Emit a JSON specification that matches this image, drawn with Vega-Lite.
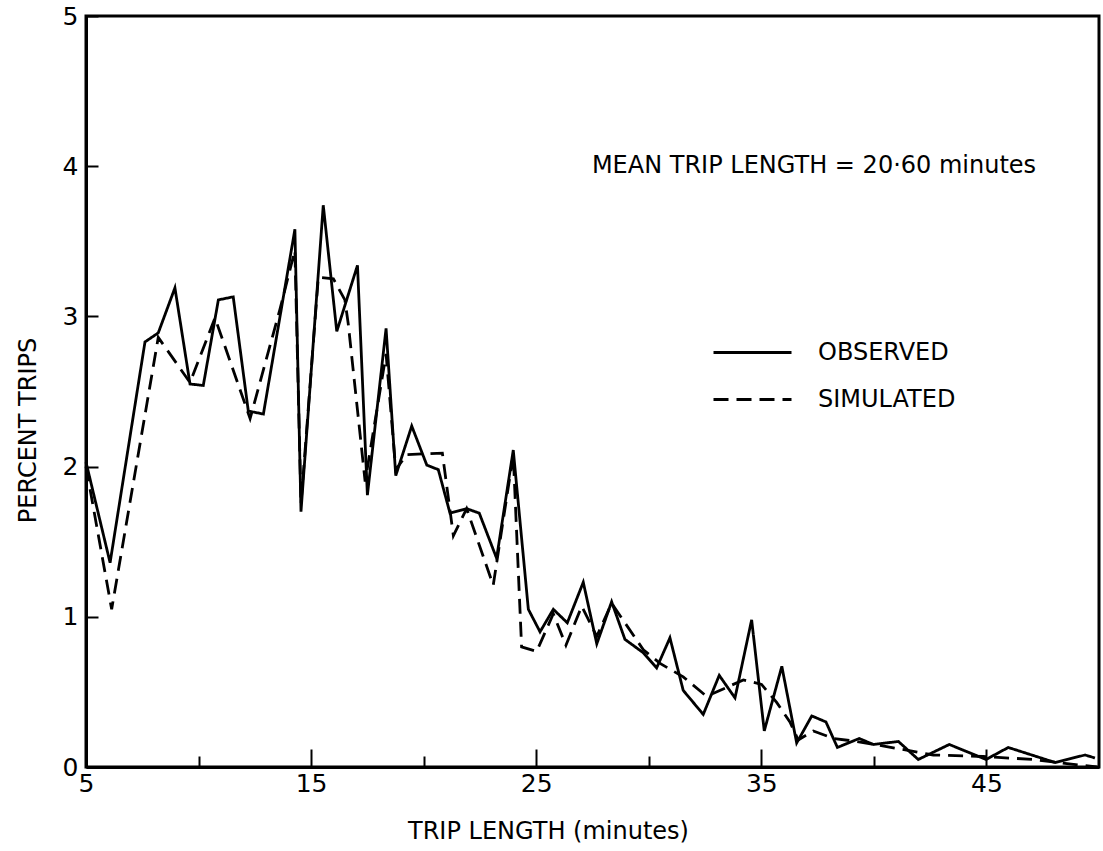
{
  "$schema": "https://vega.github.io/schema/vega-lite/v6.json",
  "width": 1013,
  "height": 751,
  "autosize": {"type": "none"},
  "padding": {"left": 86, "top": 16, "right": 4, "bottom": 84},
  "background": "white",
  "config": {
    "font": "DejaVu Sans",
    "view": {"stroke": "black", "strokeWidth": 3},
    "axis": {
      "domainColor": "black", "domainWidth": 3,
      "tickColor": "black", "tickWidth": 2,
      "labelColor": "black", "titleColor": "black",
      "labelFont": "DejaVu Sans", "titleFont": "DejaVu Sans",
      "labelFontSize": 25, "titleFontSize": 24, "titleFontWeight": "normal",
      "grid": false, "labelFlush": false, "labelOverlap": false, "format": "d"
    }
  },
  "datasets": {
    "trips": [
      {"minutes": 5.0, "percent": 2.03, "series": "OBSERVED"},
      {"minutes": 6.07, "percent": 1.36, "series": "OBSERVED"},
      {"minutes": 7.62, "percent": 2.83, "series": "OBSERVED"},
      {"minutes": 8.21, "percent": 2.89, "series": "OBSERVED"},
      {"minutes": 8.95, "percent": 3.19, "series": "OBSERVED"},
      {"minutes": 9.62, "percent": 2.55, "series": "OBSERVED"},
      {"minutes": 10.21, "percent": 2.54, "series": "OBSERVED"},
      {"minutes": 10.88, "percent": 3.11, "series": "OBSERVED"},
      {"minutes": 11.54, "percent": 3.13, "series": "OBSERVED"},
      {"minutes": 12.21, "percent": 2.37, "series": "OBSERVED"},
      {"minutes": 12.88, "percent": 2.35, "series": "OBSERVED"},
      {"minutes": 14.28, "percent": 3.58, "series": "OBSERVED"},
      {"minutes": 14.55, "percent": 1.70, "series": "OBSERVED"},
      {"minutes": 15.54, "percent": 3.74, "series": "OBSERVED"},
      {"minutes": 16.14, "percent": 2.90, "series": "OBSERVED"},
      {"minutes": 17.06, "percent": 3.34, "series": "OBSERVED"},
      {"minutes": 17.50, "percent": 1.81, "series": "OBSERVED"},
      {"minutes": 18.33, "percent": 2.92, "series": "OBSERVED"},
      {"minutes": 18.76, "percent": 1.94, "series": "OBSERVED"},
      {"minutes": 19.47, "percent": 2.27, "series": "OBSERVED"},
      {"minutes": 20.14, "percent": 2.01, "series": "OBSERVED"},
      {"minutes": 20.65, "percent": 1.98, "series": "OBSERVED"},
      {"minutes": 21.17, "percent": 1.69, "series": "OBSERVED"},
      {"minutes": 21.91, "percent": 1.72, "series": "OBSERVED"},
      {"minutes": 22.47, "percent": 1.69, "series": "OBSERVED"},
      {"minutes": 23.24, "percent": 1.39, "series": "OBSERVED"},
      {"minutes": 23.98, "percent": 2.11, "series": "OBSERVED"},
      {"minutes": 24.65, "percent": 1.05, "series": "OBSERVED"},
      {"minutes": 25.17, "percent": 0.90, "series": "OBSERVED"},
      {"minutes": 25.76, "percent": 1.05, "series": "OBSERVED"},
      {"minutes": 26.38, "percent": 0.96, "series": "OBSERVED"},
      {"minutes": 27.09, "percent": 1.23, "series": "OBSERVED"},
      {"minutes": 27.69, "percent": 0.82, "series": "OBSERVED"},
      {"minutes": 28.35, "percent": 1.10, "series": "OBSERVED"},
      {"minutes": 28.94, "percent": 0.85, "series": "OBSERVED"},
      {"minutes": 29.76, "percent": 0.76, "series": "OBSERVED"},
      {"minutes": 30.35, "percent": 0.66, "series": "OBSERVED"},
      {"minutes": 30.94, "percent": 0.86, "series": "OBSERVED"},
      {"minutes": 31.53, "percent": 0.51, "series": "OBSERVED"},
      {"minutes": 32.42, "percent": 0.35, "series": "OBSERVED"},
      {"minutes": 33.13, "percent": 0.61, "series": "OBSERVED"},
      {"minutes": 33.83, "percent": 0.46, "series": "OBSERVED"},
      {"minutes": 34.57, "percent": 0.98, "series": "OBSERVED"},
      {"minutes": 35.13, "percent": 0.24, "series": "OBSERVED"},
      {"minutes": 35.91, "percent": 0.67, "series": "OBSERVED"},
      {"minutes": 36.57, "percent": 0.16, "series": "OBSERVED"},
      {"minutes": 37.24, "percent": 0.34, "series": "OBSERVED"},
      {"minutes": 37.87, "percent": 0.30, "series": "OBSERVED"},
      {"minutes": 38.38, "percent": 0.13, "series": "OBSERVED"},
      {"minutes": 39.35, "percent": 0.19, "series": "OBSERVED"},
      {"minutes": 39.97, "percent": 0.15, "series": "OBSERVED"},
      {"minutes": 41.09, "percent": 0.17, "series": "OBSERVED"},
      {"minutes": 41.97, "percent": 0.05, "series": "OBSERVED"},
      {"minutes": 43.35, "percent": 0.15, "series": "OBSERVED"},
      {"minutes": 44.98, "percent": 0.05, "series": "OBSERVED"},
      {"minutes": 45.97, "percent": 0.13, "series": "OBSERVED"},
      {"minutes": 48.05, "percent": 0.03, "series": "OBSERVED"},
      {"minutes": 49.38, "percent": 0.08, "series": "OBSERVED"},
      {"minutes": 49.82, "percent": 0.06, "series": "OBSERVED"},
      {"minutes": 5.0, "percent": 2.0, "series": "SIMULATED"},
      {"minutes": 6.14, "percent": 1.05, "series": "SIMULATED"},
      {"minutes": 8.21, "percent": 2.86, "series": "SIMULATED"},
      {"minutes": 9.62, "percent": 2.56, "series": "SIMULATED"},
      {"minutes": 10.73, "percent": 2.99, "series": "SIMULATED"},
      {"minutes": 12.29, "percent": 2.32, "series": "SIMULATED"},
      {"minutes": 13.62, "percent": 3.05, "series": "SIMULATED"},
      {"minutes": 14.28, "percent": 3.44, "series": "SIMULATED"},
      {"minutes": 14.55, "percent": 1.75, "series": "SIMULATED"},
      {"minutes": 15.32, "percent": 3.26, "series": "SIMULATED"},
      {"minutes": 15.99, "percent": 3.25, "series": "SIMULATED"},
      {"minutes": 16.5, "percent": 3.11, "series": "SIMULATED"},
      {"minutes": 16.65, "percent": 2.95, "series": "SIMULATED"},
      {"minutes": 17.4, "percent": 1.9, "series": "SIMULATED"},
      {"minutes": 18.33, "percent": 2.75, "series": "SIMULATED"},
      {"minutes": 18.76, "percent": 1.98, "series": "SIMULATED"},
      {"minutes": 19.25, "percent": 2.08, "series": "SIMULATED"},
      {"minutes": 20.83, "percent": 2.09, "series": "SIMULATED"},
      {"minutes": 21.32, "percent": 1.54, "series": "SIMULATED"},
      {"minutes": 21.91, "percent": 1.72, "series": "SIMULATED"},
      {"minutes": 23.09, "percent": 1.21, "series": "SIMULATED"},
      {"minutes": 23.98, "percent": 2.08, "series": "SIMULATED"},
      {"minutes": 24.35, "percent": 0.80, "series": "SIMULATED"},
      {"minutes": 25.02, "percent": 0.77, "series": "SIMULATED"},
      {"minutes": 25.76, "percent": 1.02, "series": "SIMULATED"},
      {"minutes": 26.32, "percent": 0.81, "series": "SIMULATED"},
      {"minutes": 27.02, "percent": 1.07, "series": "SIMULATED"},
      {"minutes": 27.69, "percent": 0.87, "series": "SIMULATED"},
      {"minutes": 28.35, "percent": 1.09, "series": "SIMULATED"},
      {"minutes": 29.76, "percent": 0.78, "series": "SIMULATED"},
      {"minutes": 30.5, "percent": 0.69, "series": "SIMULATED"},
      {"minutes": 31.53, "percent": 0.60, "series": "SIMULATED"},
      {"minutes": 32.57, "percent": 0.47, "series": "SIMULATED"},
      {"minutes": 33.46, "percent": 0.53, "series": "SIMULATED"},
      {"minutes": 34.2, "percent": 0.58, "series": "SIMULATED"},
      {"minutes": 35.01, "percent": 0.55, "series": "SIMULATED"},
      {"minutes": 35.68, "percent": 0.43, "series": "SIMULATED"},
      {"minutes": 36.27, "percent": 0.30, "series": "SIMULATED"},
      {"minutes": 36.64, "percent": 0.18, "series": "SIMULATED"},
      {"minutes": 37.31, "percent": 0.24, "series": "SIMULATED"},
      {"minutes": 38.2, "percent": 0.19, "series": "SIMULATED"},
      {"minutes": 39.24, "percent": 0.17, "series": "SIMULATED"},
      {"minutes": 41.16, "percent": 0.12, "series": "SIMULATED"},
      {"minutes": 42.64, "percent": 0.08, "series": "SIMULATED"},
      {"minutes": 44.86, "percent": 0.07, "series": "SIMULATED"},
      {"minutes": 47.08, "percent": 0.05, "series": "SIMULATED"},
      {"minutes": 49.3, "percent": 0.01, "series": "SIMULATED"},
      {"minutes": 49.9, "percent": 0.0, "series": "SIMULATED"}
    ]
  },
  "layer": [
    {
      "data": {"name": "trips"},
      "mark": {"type": "line", "color": "black", "strokeWidth": 2.8, "strokeJoin": "miter"},
      "encoding": {
        "x": {
          "field": "minutes", "type": "quantitative",
          "scale": {"domain": [5, 50], "nice": false, "zero": false},
          "axis": {
            "values": [5, 10, 15, 20, 25, 30, 35, 40, 45],
            "tickSize": {"condition": {"test": "datum.value % 10 == 0", "value": -11}, "value": -18},
            "labelExpr": "datum.value % 10 == 5 ? datum.label : ''",
            "labelPadding": 22, "format": "d",
            "title": "TRIP LENGTH (minutes)", "titleX": 462, "titleY": 71,
            "titleBaseline": "alphabetic", "titleAlign": "center"
          }
        },
        "y": {
          "field": "percent", "type": "quantitative",
          "scale": {"domain": [0, 5], "nice": false},
          "axis": {
            "values": [0, 1, 2, 3, 4, 5], "tickSize": -12, "labelPadding": 20, "format": "d",
            "title": "PERCENT TRIPS", "titleX": -51, "titleY": 414,
            "titleAngle": -90, "titleBaseline": "alphabetic", "titleAlign": "center"
          }
        },
        "strokeDash": {
          "field": "series", "type": "nominal",
          "scale": {"domain": ["OBSERVED", "SIMULATED"], "range": [[1, 0], [15, 8]]},
          "legend": {
            "title": null, "orient": "none", "legendX": 652, "legendY": 322,
            "symbolType": "M-3,0H3", "symbolSize": 676,
            "symbolStrokeColor": "black", "symbolStrokeWidth": 2.8,
            "labelFontSize": 24, "labelFont": "DejaVu Sans", "labelColor": "black",
            "labelOffset": 51, "rowPadding": 20, "padding": 0
          }
        }
      }
    },
    {
      "data": {"values": [{}]},
      "mark": {"type": "text", "text": "MEAN TRIP LENGTH = 20·60 minutes", "fontSize": 24, "align": "center", "baseline": "middle", "color": "black", "font": "DejaVu Sans"},
      "encoding": {
        "x": {"datum": 37.34, "type": "quantitative", "scale": {"domain": [5, 50], "nice": false, "zero": false}},
        "y": {"datum": 4.0, "type": "quantitative", "scale": {"domain": [0, 5], "nice": false}}
      }
    }
  ]
}
